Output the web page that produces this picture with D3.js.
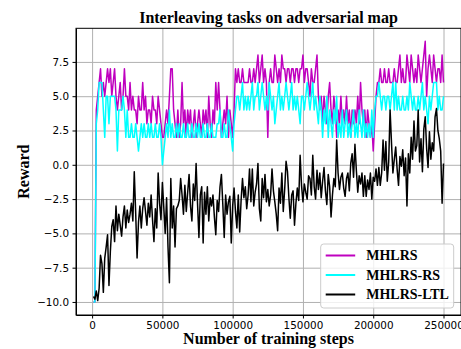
<!DOCTYPE html>
<html>
<head>
  <meta charset="utf-8">
  <script src="https://d3js.org/d3.v7.min.js"></script>
  <style>
    body { margin: 0; background: #fff; }
    .tick text { font-family: "DejaVu Sans", sans-serif; font-size: 10.4px; fill: #000; }
    .axis path, .axis line { stroke: #000; }
    .grid line { stroke: #b0b0b0; stroke-width: 1; }
    .grid path { display: none; }
    .label { font-family: "Liberation Serif", "Times New Roman", serif; font-weight: bold; }
  </style>
</head>
<body>
  <svg class="chart" width="461" height="349"></svg>
  <script>
    // Constants
    const WIDTH_ORIG  = 461;
    const HEIGHT_ORIG = 349;
    const MARGIN      = { top: 28.3, right: 0, bottom: 34, left: 76 };
    const WIDTH       = WIDTH_ORIG - MARGIN.left - MARGIN.right;
    const HEIGHT      = HEIGHT_ORIG - MARGIN.top - MARGIN.bottom;

    const TITLE   = "Interleaving tasks on adversarial map";
    const X_LABEL = "Number of training steps";
    const Y_LABEL = "Reward";

    const SERIES_NAMES  = ["MHLRS", "MHLRS-RS", "MHLRS-LTL"];
    const SERIES_COLORS = ["#bf00bf", "#00ffff", "#000000"];

    const X_TICKS = [0, 50000, 100000, 150000, 200000, 250000];
    const Y_TICKS = [-10, -7.5, -5, -2.5, 0, 2.5, 5, 7.5];

    // training steps, one sample every 1000 steps
    const STEPS = d3.range(1000, 250001, 1000);

    // MHLRS (magenta)
    const MHLRS = [
      -10, -10, 4, 5, 6, 7, 5, 6, 5, 6,
      7, 6, 7, 5, 6, 7, 5, 4, 5, 6,
      4, 5, 7, 5, 5, 4, 6, 4, 5, 4,
      4, 3, 5, 4, 4, 6, 4, 5, 3, 4,
      4, 3, 5, 4, 4, 3, 5, 4, 3, 2,
      2, 3, 4, 3, 5, 7, 7, 4, 3, 2,
      4, 2, 3, 6, 3, 4, 2, 4, 3, 4,
      2, 3, 4, 2, 3, 4, 3, 2, 4, 3,
      4, 2, 5, 3, 2, 4, 3, 6, 4, 6,
      4, 2, 3, 4, 3, 5, 2, 4, 3, 2,
      4, 7, 6, 7, 6, 6, 7, 6, 6, 6,
      6, 7, 6, 6, 7, 6, 7, 8, 6, 7,
      8, 6, 7, 6, 2, 6, 7, 6, 6, 8,
      7, 6, 7, 6, 8, 7, 7, 6, 7, 7,
      6, 7, 7, 6, 7, 7, 6, 7, 7, 8,
      6, 7, 7, 6, 5, 7, 6, 6, 7, 8,
      5, 4, 5, 3, 5, 4, 3, 5, 6, 4,
      3, 5, 4, 2, 4, 3, 5, 3, 4, 3,
      5, 3, 4, 2, 4, 3, 4, 3, 5, 3,
      6, 4, 3, 4, 2, 4, 3, 2, 3, 1,
      3, 5, 6, 6, 7, 6, 6, 7, 6, 6,
      7, 6, 6, 6, 7, 6, 6, 7, 8, 6,
      7, 6, 6, 8, 7, 6, 8, 7, 6, 7,
      6, 8, 7, 6, 7, 8, 9, 5, 7, 8,
      7, 6, 8, 7, 6, 7, 7, 6, 8, 6
    ];

    // MHLRS-RS (cyan)
    const MHLRS_RS = [
      -10, -10, 3, 4, 6, 6, 6, 4, 2, 5,
      5, 3, 5, 5, 5, 5, 4, 1, 4, 4,
      4, 5, 4, 2, 4, 2, 2, 3, 2, 2,
      3, 2, 1, 2, 3, 2, 3, 2, 2, 3,
      2, 3, 2, 2, 3, 2, 2, 3, 2, 0,
      1, 2, 3, 2, 4, 2, 3, 2, 2, 3,
      2, 3, 2, 2, 3, 2, 2, 3, 2, 2,
      3, 2, 2, 3, 2, 3, 2, 2, 3, 2,
      2, 3, 2, 2, 3, 2, 2, 2, 3, 3,
      4, 2, 2, 3, 2, 2, 4, 3, 2, 1,
      3, 4, 5, 5, 4, 5, 6, 4, 5, 4,
      5, 4, 5, 6, 4, 5, 5, 6, 4, 5,
      6, 5, 4, 5, 4, 6, 5, 4, 5, 3,
      4, 5, 6, 4, 5, 4, 5, 6, 5, 4,
      5, 6, 4, 5, 4, 5, 4, 3, 5, 5,
      4, 5, 6, 5, 4, 5, 6, 4, 5, 4,
      3, 5, 4, 2, 4, 3, 5, 2, 4, 3,
      2, 4, 3, 5, 2, 3, 2, 4, 2, 3,
      4, 2, 3, 2, 3, 4, 2, 3, 2, 4,
      3, 2, 4, 2, 3, 2, 3, 2, 4, 2,
      4, 5, 5, 6, 5, 4, 5, 5, 4, 5,
      5, 4, 5, 6, 4, 6, 4, 5, 4, 4,
      5, 4, 4, 5, 4, 6, 5, 4, 5, 4,
      4, 5, 4, 5, 6, 4, 5, 4, 3, 5,
      4, 5, 6, 6, 6, 4, 5, 4, 4, 5
    ];

    // MHLRS-LTL (black)
    const MHLRS_LTL = [
      -9.6, -9.8, -9.2, -9.9, -9.0, -6.6, -7.2, -9.3, -6.8, -6.0,
      -5.1, -8.8, -6.3, -4.5, -4.0, -5.6, -3.0, -4.8, -3.6, -4.4,
      -5.2, -3.8, -3.0, -4.6, -3.3, -4.2, -3.6, -2.8, -4.1, -0.5,
      -3.5, -6.8, -4.2, -3.0, -4.6, -3.2, -2.4, -3.4, -4.4, -2.8,
      -3.8, -2.2, -4.0, -5.6, -3.2, -4.6, -0.6, -2.8, -4.0, -1.3,
      -3.1, -5.0, -2.4, -6.0, -8.6, -1.0, -4.6, -3.0, -6.0, -3.2,
      -3.0, -2.6, -1.0, -2.2, -3.6, -1.5, -3.4, -2.0, -0.7, -3.0,
      -4.1, -1.4, -2.6, 0.1, -2.8, -5.3, -2.2, -1.6, -5.7, -2.0,
      -3.6, -1.6, -4.1, -2.4, -3.0, -2.2, -3.8, -5.1, -2.6, -3.4,
      -1.6, -0.7, -2.9, -5.3, -2.2, -3.6, -2.7, -2.3, -5.7, -3.0,
      -1.7, -3.4, -4.6, -2.2, -4.9, -2.6, -1.0, -2.4, -1.6, -3.2,
      -2.2, -0.3, -2.7, -0.3, -3.0, -2.0, -1.4, 0.1, -3.2, -4.1,
      -1.0, -2.4, -0.7, -2.7, -1.8, -3.0, -2.2, -0.3, -1.9, -2.7,
      -3.6, -4.8, -1.7, -2.8, -0.6, -3.4, -1.8, 0.25, -0.5, -2.4,
      -3.9, -2.2, -1.9, -4.4, -2.8, -1.7, -2.6, 0.7, -1.5, -2.7,
      -1.4, -2.0, -2.5, -0.8, -1.0, -2.2, 0.7, -1.6, -2.5, -0.4,
      -1.8, -0.6, -2.4, -1.2, -0.2, -1.9, -2.9, -0.7, -1.6, -3.8,
      -2.2, -1.0, -1.6, 1.8, -0.6, -1.8, -0.9, -0.6, -1.7, -2.3,
      -1.0, -0.6, -1.9, 0.1, 0.8, -0.9, 1.5, -0.4, -2.0, -0.8,
      -1.4, -0.6, -2.3, -0.8, -2.3, -1.1, -1.8, -0.6, -2.5, -0.9,
      -1.2, -0.3, -1.5, -0.2, -1.5, -0.6, 1.8, -0.4, 1.7, -1.2,
      0.2, 4.0, 1.6, -0.6, 0.4, 1.3, -0.3, -1.5, 0.6, -0.1,
      1.1, -0.8, 0.5, -3.0, 0.8, -0.6, 2.0, 0.4, 3.2, 1.0,
      1.4, 4.0, 0.2, 1.9, -0.5, 2.6, 3.5, 1.2, -0.2, 2.4,
      0.4, 1.6, 1.0, 3.5, 4.1, 2.5, 1.9, 1.0, -2.8, 0.1
    ];

    const SERIES = [MHLRS, MHLRS_RS, MHLRS_LTL];

    const svg = d3.select(".chart")
        .append("g").attr("transform", `translate(${MARGIN.left}, ${MARGIN.top})`);

    const xScale = d3.scaleLinear().domain([-11450, 262450]).range([0, WIDTH]);
    const yScale = d3.scaleLinear().domain([-10.95, 9.95]).range([HEIGHT, 0]);

    // grid
    svg.append("g").attr("class", "grid")
        .attr("transform", `translate(0, ${HEIGHT})`)
        .call(d3.axisBottom(xScale).tickValues(X_TICKS).tickSize(-HEIGHT).tickFormat(""));
    svg.append("g").attr("class", "grid")
        .call(d3.axisLeft(yScale).tickValues(Y_TICKS).tickSize(-WIDTH).tickFormat(""));

    // lines
    const line = d3.line()
        .x((d, i) => xScale(STEPS[i]))
        .y(d => yScale(d));

    SERIES.forEach((s, k) => {
      svg.append("path")
        .datum(s)
        .attr("fill", "none")
        .attr("stroke", SERIES_COLORS[k])
        .attr("stroke-width", 1.5)
        .attr("stroke-linejoin", "round")
        .attr("d", line);
    });

    // axes
    svg.append("g").attr("class", "axis")
        .attr("transform", `translate(0, ${HEIGHT})`)
        .call(d3.axisBottom(xScale).tickValues(X_TICKS).tickSize(3.5).tickPadding(3.5)
              .tickSizeOuter(0).tickFormat(d3.format("d")));
    svg.append("g").attr("class", "axis")
        .call(d3.axisLeft(yScale).tickValues(Y_TICKS).tickSize(3.5).tickPadding(3.5)
              .tickSizeOuter(0).tickFormat(d3.format(".1f")));

    // frame
    svg.append("rect")
        .attr("width", WIDTH).attr("height", HEIGHT)
        .attr("fill", "none").attr("stroke", "#000").attr("stroke-width", 1);

    // titles
    svg.append("text").attr("class", "label")
        .attr("x", WIDTH / 2).attr("y", -5.5)
        .attr("text-anchor", "middle").style("font-size", "16px")
        .text(TITLE);
    svg.append("text").attr("class", "label")
        .attr("x", WIDTH / 2).attr("y", HEIGHT + 29.5)
        .attr("text-anchor", "middle").style("font-size", "16px")
        .text(X_LABEL);
    svg.append("text").attr("class", "label")
        .attr("transform", `translate(${29 - MARGIN.left}, ${HEIGHT / 2}) rotate(-90)`)
        .attr("text-anchor", "middle").style("font-size", "16px")
        .text(Y_LABEL);

    // legend
    const LEG_X = 320.7 - MARGIN.left, LEG_Y = 244 - MARGIN.top;
    const legend = svg.append("g").attr("transform", `translate(${LEG_X}, ${LEG_Y})`);
    legend.append("rect")
        .attr("width", 133).attr("height", 64).attr("rx", 3)
        .attr("fill", "#fff").attr("fill-opacity", 0.8)
        .attr("stroke", "#ccc").attr("stroke-width", 1);
    SERIES_NAMES.forEach((name, k) => {
      const yy = 11.5 + k * 19.5;
      legend.append("line")
        .attr("x1", 5).attr("x2", 34.5).attr("y1", yy).attr("y2", yy)
        .attr("stroke", SERIES_COLORS[k]).attr("stroke-width", 2);
      legend.append("text").attr("class", "label")
        .attr("x", 45.5).attr("y", yy + 4.8)
        .style("font-size", "14px")
        .text(name);
    });
  </script>
</body>
</html>
